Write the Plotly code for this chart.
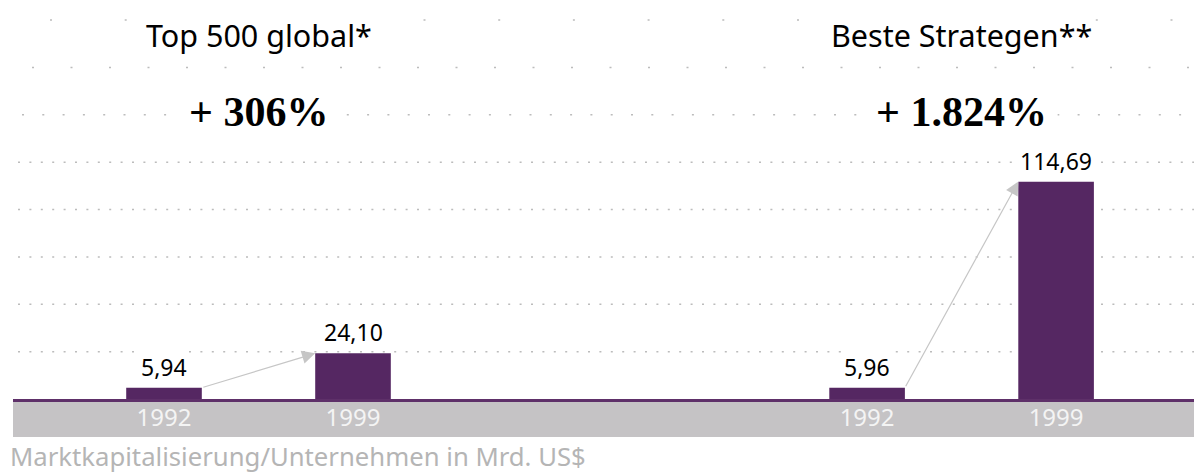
import plotly.graph_objects as go

# ---- data ----
groups = ["Top 500 global*", "Beste Strategen**"]
years = ["1992", "1999"]
top500_values = [5.94, 24.10]
strategen_values = [5.96, 114.69]
source_note = "Marktkapitalisierung/Unternehmen in Mrd. US$"
grid_values = [25, 50, 75, 100, 125, 150, 175, 200]

# ---- styles / geometry ----
BAR_COLOR = "#552762"
BAND_COLOR = "#c5c3c5"
GRID_COLOR = "#bcbcbc"
ARROW_COLOR = "#c6c6c6"
SANS = "Noto Sans"
SERIF = "Liberation Serif"
GROUP_GAP = 3.72
BAR_W = 0.4
FIG_W, FIG_H = 1194, 474
PLOT_L = 13
BASE = 399              # baseline in figure pixels
PLOT_W = FIG_W - PLOT_L
PX_PER_UNIT = 1.895


def py(page_y):
    """figure pixel y -> paper fraction"""
    return (BASE - page_y) / BASE


def px(page_x):
    return (page_x - PLOT_L) / PLOT_W


series = [top500_values, strategen_values]


def de_num(v):
    return f"{v:.2f}".replace(".", ",")


fig = go.Figure()

tickvals, ticktext = [], []
annotations = []
for g, (name, vals) in enumerate(zip(groups, series)):
    xs = [g * GROUP_GAP + i for i in range(len(years))]
    tickvals += xs
    ticktext += years
    fig.add_trace(go.Bar(x=xs, y=vals, width=BAR_W, marker=dict(color=BAR_COLOR, line=dict(width=0)),
                         hoverinfo="skip", showlegend=False))
    center = sum(xs) / len(xs)
    annotations.append(dict(x=center, xref="x", y=py(35), yref="paper", text=name, showarrow=False,
                            font=dict(family=SANS, size=30.5, color="#000000"), bgcolor="#ffffff",
                            borderpad=2, xanchor="center", yanchor="middle"))
    pct = round((vals[1] / vals[0] - 1) * 100)
    pct_txt = "+ " + f"{pct:,}".replace(",", ".") + "%"
    annotations.append(dict(x=center, xref="x", y=py(112), yref="paper", text="<b>" + pct_txt + "</b>",
                            showarrow=False, font=dict(family=SERIF, size=42, color="#000000"),
                            bgcolor="#ffffff", borderpad=10, xanchor="center", yanchor="middle"))
    for x, v in zip(xs, vals):
        annotations.append(dict(x=x, xref="x", y=v, yref="y", text=de_num(v), showarrow=False,
                                font=dict(family=SANS, size=23, color="#000000"), bgcolor="#ffffff",
                                borderpad=1, xanchor="center", yanchor="bottom", yshift=3))
    annotations.append(dict(x=xs[1] - BAR_W / 2, y=vals[1], xref="x", yref="y",
                            ax=xs[0] + BAR_W / 2, ay=vals[0], axref="x", ayref="y",
                            text="", showarrow=True, arrowhead=2, arrowsize=2.2, arrowwidth=1.2,
                            arrowcolor=ARROW_COLOR, standoff=0, startstandoff=0))

annotations.append(dict(x=px(8), xref="paper", y=py(457), yref="paper", text=source_note,
                        showarrow=False, font=dict(family=SANS, size=25.7, color="#b5b5b5"),
                        xanchor="left", yanchor="middle"))

shapes = []
shapes.append(dict(type="rect", xref="paper", yref="paper", x0=0, x1=1, y0=py(437), y1=0,
                   fillcolor=BAND_COLOR, line=dict(width=0), layer="below"))
row_styles = {150: ("2px,18.3px", px(22)), 175: ("2px,36.5px", px(32)), 200: ("2px,72.7px", px(50))}
for gv in grid_values:
    dash, start = row_styles.get(gv, ("2px,9.4px", px(18)))
    shapes.append(dict(type="line", xref="paper", yref="y", x0=start, x1=1, y0=gv, y1=gv,
                       line=dict(color=GRID_COLOR, width=1.5, dash=dash), layer="below"))

fig.update_layout(
    width=FIG_W, height=FIG_H,
    margin=dict(l=PLOT_L, r=0, t=0, b=FIG_H - BASE, pad=0),
    paper_bgcolor="#ffffff", plot_bgcolor="rgba(0,0,0,0)",
    showlegend=False,
    annotations=annotations,
    shapes=shapes,
    xaxis=dict(range=[-0.799, -0.799 + PLOT_W / 189], tickvals=tickvals, ticktext=ticktext,
               showgrid=False, zeroline=False, showline=True, linecolor="#5e3069", linewidth=2.5,
               ticks="", ticklabelstandoff=-5,
               tickfont=dict(family=SANS, size=24, color="#f4f4f4"), fixedrange=True),
    yaxis=dict(range=[0, BASE / PX_PER_UNIT], showgrid=False, zeroline=False, showticklabels=False,
               showline=False, fixedrange=True),
)

fig.write_html("out.html", config={"displayModeBar": False},
               post_script="document.body.style.margin='0';document.body.style.overflow='hidden';")
